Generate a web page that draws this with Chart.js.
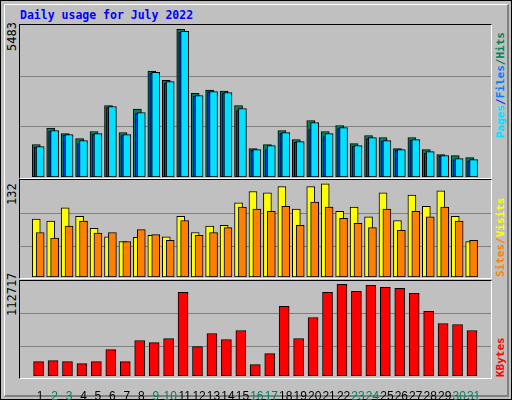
<!DOCTYPE html>
<html><head><meta charset="utf-8">
<script src="https://cdn.jsdelivr.net/npm/chart.js@4"></script>
<style>
body{margin:0;background:#c0c0c0;}
#frame{position:absolute;left:0;top:0;width:510px;height:398px;border:1px solid #000;background:#c0c0c0;}
#inner{position:absolute;left:3px;top:3px;width:502px;height:390px;border-top:1px solid #fff;border-left:1px solid #fff;border-right:2px solid #808080;border-bottom:2px solid #808080;}
.pbox{position:absolute;left:19px;width:471px;border-top:1px solid #000;border-left:1px solid #000;border-right:1px solid #fff;border-bottom:1px solid #fff;}
canvas{position:absolute;}
.t{position:absolute;font-family:"DejaVu Sans Mono",monospace;white-space:nowrap;}
.rot{transform-origin:0 0;transform:rotate(-90deg);}
</style></head><body>
<div id="frame"><div id="inner"></div></div>
<div class="t" style="left:20px;top:8px;font-size:11.5px;font-weight:bold;color:#0000ff;">Daily usage for July 2022</div>
<div class="pbox" style="top:24px;height:153px;"></div>
<div class="pbox" style="top:179px;height:98px;"></div>
<div class="pbox" style="top:280px;height:97px;"></div>
<div class="t rot" style="left:5px;top:51px;font-size:12px;">5483</div>
<div class="t rot" style="left:5px;top:205px;font-size:12px;">132</div>
<div class="t rot" style="left:5px;top:316px;font-size:12px;">112717</div>
<div class="t rot" style="left:494px;top:138px;font-size:11px;font-weight:bold;"><span style="color:#00e0ff">Pages</span><span style="color:#0040ff">/</span><span style="color:#0080ff">Files</span><span style="color:#008060">/Hits</span></div>
<div class="t rot" style="left:494px;top:277px;font-size:11px;font-weight:bold;"><span style="color:#ff8000">Sites/</span><span style="color:#ffff00">Visits</span></div>
<div class="t rot" style="left:494px;top:377px;font-size:11px;font-weight:bold;"><span style="color:#ff0000">KBytes</span></div>
<canvas id="c1" style="left:20px;top:25px;width:471px;height:152px;"></canvas>
<canvas id="c2" style="left:20px;top:180px;width:471px;height:97px;"></canvas>
<canvas id="c3" style="left:20px;top:281px;width:471px;height:119px;"></canvas>
<script>
const days=[1,2,3,4,5,6,7,8,9,10,11,12,13,14,15,16,17,18,19,20,21,22,23,24,25,26,27,28,29,30,31];
const weekend=[2,3,9,10,16,17,23,24,30,31];
const hits=[1205,1812,1614,1428,1689,2656,1652,2518,3932,3586,5483,3102,3225,3188,2656,1056,1205,1726,1391,2098,1689,1912,1242,1540,1466,1056,1466,1019,833,796,722];
const files=[1129,1724,1575,1352,1612,2617,1575,2394,3882,3547,5407,3026,3175,3138,2542,1017,1166,1650,1315,2022,1612,1836,1166,1463,1352,1017,1389,943,794,682,645];
const pages=[1100,1700,1560,1240,1590,2580,1538,2356,3850,3500,5380,3000,3160,3120,2468,990,1017,1620,1290,1761,1500,1800,1140,1430,1330,1000,1360,880,780,640,600];
const visits=[82,79,98,86,69,57,50,56,59,57,86,63,72,73,105,121,119,128,96,128,132,93,99,85,119,80,116,100,122,86,50];
const sites=[63,55,72,79,62,63,50,67,60,52,80,59,63,70,99,96,93,100,73,106,99,83,76,70,96,66,93,85,99,79,52];
const kbytes=[17690,18924,17690,15222,17690,32500,17690,43608,41140,46077,102850,36203,52248,44843,55950,13988,27564,85571,46077,71995,102850,112717,104084,111489,109021,107787,101616,79400,64590,63356,55950];

const XMIN=0.13,XMAX=31.68;
function pts(arr,off){return arr.map((v,i)=>({x:days[i]+off,y:v}));}
function ds(arr,off,color,w,order){return {data:pts(arr,off),backgroundColor:color,borderColor:'#000',borderWidth:1,borderSkipped:false,barThickness:w,order:order,grouped:false};}
function yScale(M,fr){return {type:'linear',min:0,max:M,
  afterBuildTicks:s=>{s.ticks=fr.map(f=>({value:f*M}));},
  afterFit:s=>{s.width=0;},
  ticks:{display:false},border:{display:false},grid:{color:'#808080',lineWidth:1,drawTicks:false}};}
function xScale(show){return {type:'linear',min:XMIN,max:XMAX,display:show,
  afterBuildTicks:s=>{s.ticks=days.map(d=>({value:d}));},
  afterFit:s=>{s.height=show?24:0;},
  grid:{display:false},border:{display:false},
  ticks:{font:{family:'Liberation Sans',size:12},padding:5,maxRotation:0,autoSkip:false,
    color:c=>weekend.includes(c.tick.value)?'#008060':'#000'}};}
const base={responsive:false,animation:false,plugins:{legend:{display:false},tooltip:{enabled:false}},layout:{padding:0}};
function mk(id,w,h,datasets,M,fr,show){
  const c=document.getElementById(id);c.width=w;c.height=h;
  new Chart(c,{type:'bar',data:{datasets},options:Object.assign({},base,{scales:{x:xScale(show),y:yScale(M,fr)}})});
}
mk('c1',471,152,[ds(hits,-0.27,'#008060',8,3),ds(pages,-0.17,'#0040ff',7,2),ds(files,0,'#00e0ff',8,1)],5643,[50/151.7,100/151.7],false);
mk('c2',471,97,[ds(visits,-0.27,'#ffff00',8,2),ds(sites,0,'#ff8000',8,1)],137.3,[90/287,189/287],false);
mk('c3',471,119,[ds(kbytes,-0.11,'#ff0000',10,1)],116831,[88/284,187/284],true);
</script></body></html>
